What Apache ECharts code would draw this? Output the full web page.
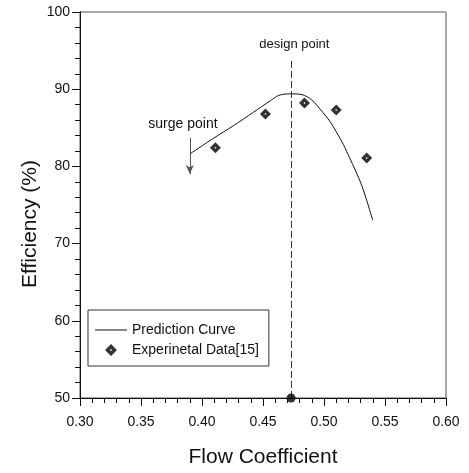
<!DOCTYPE html>
<html>
<head>
<meta charset="utf-8">
<script src="https://cdn.jsdelivr.net/npm/echarts@6/dist/echarts.min.js"></script>
<style>
  html, body { margin: 0; padding: 0; background: #fff; }
  #chart { width: 469px; height: 473px; }
</style>
</head>
<body>
<div id="chart"></div>
<script>
// prediction curve
const curveX = [0.390, 0.409, 0.426, 0.442, 0.456, 0.463, 0.472, 0.482, 0.490, 0.499, 0.505, 0.510, 0.516, 0.521, 0.526, 0.531, 0.535, 0.540];
const curveY = [81.6, 83.6, 85.3, 87.0, 88.5, 89.2, 89.4, 89.3, 88.6, 87.0, 85.8, 84.5, 82.8, 81.1, 79.4, 77.5, 75.6, 73.0];

// experimental data [15]
const expX = [0.411, 0.452, 0.484, 0.510, 0.535];
const expY = [82.4, 86.8, 88.2, 87.3, 81.1];

// annotations
const designX = 0.473;
const designTop = 94;
const surgeX = 0.390;
const surgeFrom = 83.7;
const surgeTo = 79.0;

const xTicks = [0.30, 0.35, 0.40, 0.45, 0.50, 0.55, 0.60];
const yTicks = [50, 60, 70, 80, 90, 100];

const font = "'Liberation Sans', Arial, sans-serif";
// black diamond with a small hole in the middle
const diamondPath = 'path://M5,0 L10,5 L5,10 L0,5 Z M5,4.1 L4.1,5 L5,5.9 L5.9,5 Z';
const linePath = 'path://M0,0 L32,0 L32,1 L0,1 Z';

const option = {
    animation: false,
    textStyle: { fontFamily: font, color: '#111' },
    grid: {
        left: 80, right: 23, top: 12, bottom: 71,
        show: true,
        borderColor: '#555',
        borderWidth: 1
    },
    legend: {
        data: [
            { name: 'Prediction Curve', icon: linePath },
            { name: 'Experinetal Data[15]', icon: diamondPath }
        ],
        orient: 'vertical',
        left: 88,
        top: 310,
        padding: [13, 10, 9, 7],
        itemGap: 6,
        itemWidth: 32,
        itemHeight: 12,
        symbolKeepAspect: true,
        borderColor: '#333',
        borderWidth: 1,
        textStyle: { fontSize: 14, color: '#111', fontFamily: font }
    },
    xAxis: {
        type: 'value',
        min: xTicks[0],
        max: xTicks[xTicks.length - 1],
        interval: 0.05,
        name: 'Flow Coefficient',
        nameLocation: 'middle',
        nameGap: 49,
        nameTextStyle: { fontSize: 21, color: '#111', fontFamily: font },
        axisLine: { lineStyle: { color: '#111' } },
        axisTick: { length: 8, lineStyle: { color: '#111' } },
        minorTick: { show: true, splitNumber: 5, length: 5, lineStyle: { color: '#111' } },
        axisLabel: {
            margin: 17, fontSize: 14, color: '#111',
            formatter: v => v.toFixed(2)
        },
        splitLine: { show: false }
    },
    yAxis: {
        type: 'value',
        min: yTicks[0],
        max: yTicks[yTicks.length - 1],
        interval: 10,
        axisLine: { show: true, lineStyle: { color: '#111' } },
        axisTick: { show: true, length: 8, lineStyle: { color: '#111' } },
        minorTick: { show: true, splitNumber: 5, length: 5, lineStyle: { color: '#111' } },
        axisLabel: { margin: 10, fontSize: 14, color: '#111' },
        splitLine: { show: false }
    },
    graphic: [{
        type: 'text',
        x: 30, y: 224,
        rotation: Math.PI / 2,
        style: {
            text: 'Efficiency (%)',
            font: '21px ' + font,
            fill: '#111',
            align: 'center',
            verticalAlign: 'middle'
        }
    }],
    series: [
        {
            name: 'Prediction Curve',
            type: 'line',
            data: curveX.map((x, i) => [x, curveY[i]]),
            smooth: 0.3,
            symbol: 'none',
            lineStyle: { color: '#111', width: 1 },
            itemStyle: { color: '#111' },
            markLine: {
                silent: true,
                symbol: 'none',
                label: { show: false },
                data: [
                    [
                        { coord: [designX, 50], lineStyle: { color: '#333', width: 1, type: [7, 3] } },
                        { coord: [designX, designTop] }
                    ],
                    [
                        { coord: [surgeX, surgeFrom], symbol: 'none', lineStyle: { color: '#555', width: 1, type: 'solid' } },
                        { coord: [surgeX, surgeTo], symbol: 'arrow', symbolSize: [6, 9] }
                    ]
                ]
            },
            markPoint: {
                silent: true,
                symbol: 'circle',
                symbolSize: 1,
                itemStyle: { color: 'rgba(0,0,0,0)' },
                label: { show: true, position: 'inside', color: '#111', fontFamily: font },
                data: [
                    { coord: [0.4757, 95.8], label: { formatter: 'design point', fontSize: 13 } },
                    { coord: [0.3844, 85.5], label: { formatter: 'surge point', fontSize: 14 } }
                ]
            }
        },
        {
            name: 'Experinetal Data[15]',
            type: 'scatter',
            data: expX.map((x, i) => [x, expY[i]]),
            symbol: diamondPath,
            symbolSize: 11,
            itemStyle: { color: '#000' }
        },
        {
            name: 'design',
            type: 'scatter',
            data: [[designX, 50]],
            symbol: 'circle',
            symbolSize: 9,
            clip: false,
            z: 5,
            itemStyle: { color: '#000' }
        }
    ]
};

const myChart = echarts.init(document.getElementById('chart'));
myChart.setOption(option);
</script>
</body>
</html>
